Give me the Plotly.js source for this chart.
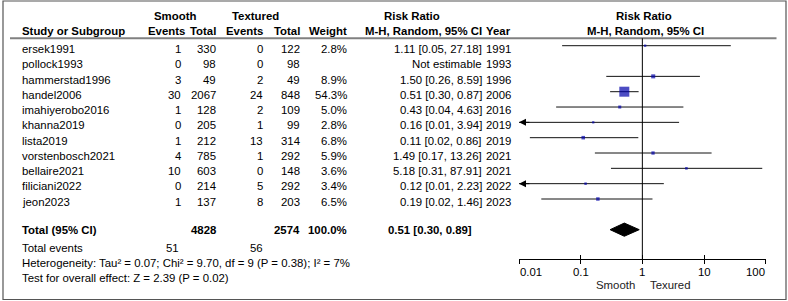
<!DOCTYPE html>
<html><head><meta charset="utf-8">
<script src="https://cdn.plot.ly/plotly-3.0.1.min.js"></script>
<style>html,body{margin:0;padding:0;background:#fff}#chart{width:788px;height:301px}</style>
</head><body><div id="chart"></div>
<script>
// ---- data ----
const studies = ['ersek1991','pollock1993','hammerstad1996','handel2006','imahiyerobo2016','khanna2019','lista2019','vorstenbosch2021','bellaire2021','filiciani2022','jeon2023'];
const smoothEvents = [1,0,3,30,1,0,1,4,10,0,1];
const smoothTotal = [330,98,49,2067,128,205,212,785,603,214,137];
const texEvents = [0,0,2,24,2,1,13,1,0,5,8];
const texTotal = [122,98,49,848,109,99,314,292,148,292,203];
const weights = [2.8,null,8.9,54.3,5.0,2.8,6.8,5.9,3.6,3.4,6.5];
const years = [1991,1993,1996,2006,2016,2019,2019,2021,2021,2022,2023];
const rr = [1.11,null,1.50,0.51,0.43,0.16,0.11,1.49,5.18,0.12,0.19];
const ciLow = [0.05,null,0.26,0.30,0.04,0.01,0.015,0.17,0.31,0.01,0.023];
const ciHigh = [27.18,null,8.59,0.87,4.63,3.94,0.86,13.26,87.91,2.23,1.46];
const ciText = ['1.11 [0.05, 27.18]','Not estimable','1.50 [0.26, 8.59]','0.51 [0.30, 0.87]','0.43 [0.04, 4.63]','0.16 [0.01, 3.94]','0.11 [0.02, 0.86]','1.49 [0.17, 13.26]','5.18 [0.31, 87.91]','0.12 [0.01, 2.23]','0.19 [0.02, 1.46]'];
const truncatedLow = [false,false,false,false,false,true,false,false,false,true,false];
const pooled = {rr:0.51, lo:0.30, hi:0.89, text:'0.51 [0.30, 0.89]'};
const totalSmooth = 4828, totalTex = 2574, totalWeight = '100.0%';
const totalEventsSmooth = 51, totalEventsTex = 56;
const heteroText = 'Heterogeneity: Tau² = 0.07; Chi² = 9.70, df = 9 (P = 0.38); I² = 7%';
const overallText = 'Test for overall effect: Z = 2.39 (P = 0.02)';
const tickVals = [0.01,0.1,1,10,100];
const tickText = ['0.01','0.1','1','10','100'];
const favLeft = 'Smooth', favRight = 'Texured';

// ---- layout helpers ----
const W = 788, H = 301;
const F = '"Liberation Sans", Arial, sans-serif';
const FS = 11.4;
const px = x => x / W, py = y => 1 - y / H;
function ann(text, x, y, anchor, bold, extra) {
  return Object.assign({
    text: bold ? '<b>' + text + '</b>' : String(text),
    x: px(x), y: py(y), xref: 'paper', yref: 'paper',
    xanchor: anchor, yanchor: 'middle', showarrow: false, borderpad: 0,
    font: {family: F, size: FS, color: '#000'}
  }, extra || {});
}
const annotations = [];
// headers
annotations.push(ann('Smooth', 175, 15.7, 'center', true));
annotations.push(ann('Textured', 255, 15.7, 'center', true));
annotations.push(ann('Risk Ratio', 412, 15.7, 'center', true));
annotations.push(ann('Risk Ratio', 644, 15.7, 'center', true));
const hy = 31.5;
annotations.push(ann('Study or Subgroup', 21, hy, 'left', true));
annotations.push(ann('Events', 186, hy, 'right', true));
annotations.push(ann('Total', 217, hy, 'right', true));
annotations.push(ann('Events', 263.5, hy, 'right', true));
annotations.push(ann('Total', 301, hy, 'right', true));
annotations.push(ann('Weight', 347.5, hy, 'right', true));
annotations.push(ann('M-H, Random, 95% CI', 483, hy, 'right', true));
annotations.push(ann('Year', 485, hy, 'left', true));
annotations.push(ann('M-H, Random, 95% CI', 645, hy, 'center', true));
// rows
studies.forEach((s, i) => {
  const y = 49 + 15.27 * i;
  annotations.push(ann(s, 21, y, 'left', false));
  annotations.push(ann(smoothEvents[i], 181.5, y, 'right', false));
  annotations.push(ann(smoothTotal[i], 217, y, 'right', false));
  annotations.push(ann(texEvents[i], 263.5, y, 'right', false));
  annotations.push(ann(texTotal[i], 301, y, 'right', false));
  if (weights[i] !== null) annotations.push(ann(weights[i].toFixed(1) + '%', 347.5, y, 'right', false));
  annotations.push(ann(ciText[i], 483, y, 'right', false));
  annotations.push(ann(years[i], 485, y, 'left', false));
});
// totals
annotations.push(ann('Total (95% CI)', 21, 230, 'left', true));
annotations.push(ann(totalSmooth, 217, 230, 'right', true));
annotations.push(ann(totalTex, 301, 230, 'right', true));
annotations.push(ann(totalWeight, 347.5, 230, 'right', true));
annotations.push(ann(pooled.text, 473.5, 230, 'right', true));
annotations.push(ann('Total events', 21, 248.3, 'left', false));
annotations.push(ann(totalEventsSmooth, 180, 248.3, 'right', false));
annotations.push(ann(totalEventsTex, 263.5, 248.3, 'right', false));
annotations.push(ann(heteroText, 21, 263.3, 'left', false));
annotations.push(ann(overallText, 21, 278, 'left', false));
// tick labels (end labels sit inside the axis); log axis -> annotation x in log10 units
tickVals.forEach((v, k) => {
  const anchor = k === 0 ? 'left' : (k === tickVals.length - 1 ? 'right' : 'center');
  annotations.push({text: tickText[k], x: Math.log10(v), y: py(271.7), xref: 'x', yref: 'paper', xanchor: anchor, yanchor: 'middle',
    showarrow: false, borderpad: 0, font: {family: F, size: FS, color: '#000'}});
});
annotations.push(ann(favLeft, 636, 284.5, 'right', false, {font: {family: F, size: FS, color: '#222'}}));
annotations.push(ann(favRight, 648.5, 284.5, 'left', false, {font: {family: F, size: FS, color: '#222'}}));
// left arrows for truncated CIs
studies.forEach((s, i) => {
  if (truncatedLow[i]) annotations.push({x: Math.log10(tickVals[0]), y: i, xref: 'x', yref: 'y', ax: 12, ay: 0, text: '',
    showarrow: true, arrowhead: 2, arrowsize: 1.4, arrowwidth: 1, arrowcolor: '#000', standoff: 0});
});

// ---- traces ----
const lx = [], ly = [];
studies.forEach((s, i) => { if (rr[i] !== null) { lx.push(ciLow[i], ciHigh[i], null); ly.push(i, i, null); } });
const ciTrace = {x: lx, y: ly, mode: 'lines', line: {color: '#111', width: 1}, hoverinfo: 'skip'};
const sqIdx = studies.map((s, i) => i).filter(i => rr[i] !== null);
const sqTrace = {x: sqIdx.map(i => rr[i]), y: sqIdx, mode: 'markers', hoverinfo: 'skip',
  marker: {symbol: 'square', color: '#0000aa', size: sqIdx.map(i => 10 * Math.sqrt(weights[i] / 54.3)), line: {width: 0}}};
const dRow = 12, dh = 0.43;
const diamond = {x: [pooled.lo, pooled.rr, pooled.hi, pooled.rr, pooled.lo], y: [dRow, dRow - dh, dRow, dRow + dh, dRow],
  mode: 'lines', fill: 'toself', fillcolor: '#000', line: {color: '#000', width: 1}, hoverinfo: 'skip'};
const dummy = {x: [1], y: [0], xaxis: 'x2', yaxis: 'y', mode: 'markers', marker: {opacity: 0}, hoverinfo: 'skip'};

const axBottom = 259.3;
const xDomain = [519 / W, 765.7 / W];
const layout = {
  width: W, height: H, margin: {l: 0, r: 0, t: 0, b: 0}, showlegend: false,
  paper_bgcolor: '#fff', plot_bgcolor: '#fff', hovermode: false,
  xaxis: {type: 'log', range: [-2, 2], domain: xDomain, anchor: 'y', showline: true, linecolor: '#000', linewidth: 1,
    ticks: 'outside', ticklen: 4, tickcolor: '#000', tickwidth: 1, tickmode: 'array', tickvals: tickVals,
    showticklabels: false, showgrid: false, zeroline: false, fixedrange: true},
  xaxis2: {type: 'log', range: [-2, 2], domain: xDomain, anchor: 'y', overlaying: 'x', showline: false,
    ticks: 'inside', ticklen: 4, tickcolor: '#000', tickwidth: 1, tickmode: 'array', tickvals: tickVals,
    showticklabels: false, showgrid: false, zeroline: false, fixedrange: true},
  yaxis: {domain: [1 - axBottom / H, 1], range: [(axBottom - 45.7) / 15.33, -45.7 / 15.33], visible: false, fixedrange: true},
  shapes: [
    {type: 'rect', xref: 'paper', yref: 'paper', x0: px(3), x1: px(786), y0: py(1), y1: py(299.5), line: {color: '#555', width: 1.2}},
    {type: 'line', xref: 'paper', yref: 'paper', x0: px(10), x1: px(776.5), y0: py(38.3), y1: py(38.3), line: {color: '#808080', width: 2}},
    {type: 'line', xref: 'x', yref: 'paper', x0: 1, x1: 1, y0: py(axBottom), y1: py(38.3), line: {color: '#000', width: 1}}
  ],
  annotations: annotations
};
Plotly.newPlot('chart', [ciTrace, sqTrace, diamond, dummy], layout, {staticPlot: true, displayModeBar: false});
</script></body></html>
